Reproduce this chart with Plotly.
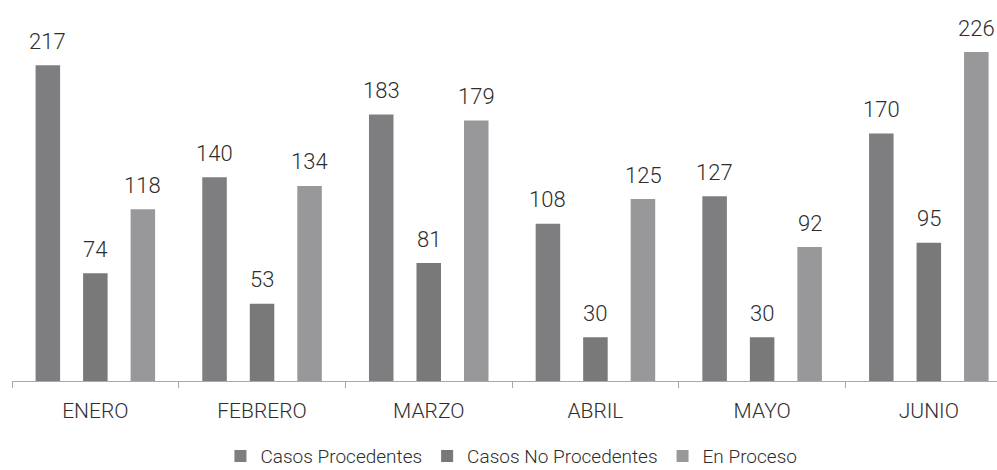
import plotly.graph_objects as go

# Monthly case counts by status
meses = ["ENERO", "FEBRERO", "MARZO", "ABRIL", "MAYO", "JUNIO"]
series_nombres = ["Casos Procedentes", "Casos No Procedentes", "En Proceso"]
procedentes = [217, 140, 183, 108, 127, 170]
no_procedentes = [74, 53, 81, 30, 30, 95]
en_proceso = [118, 134, 179, 125, 92, 226]
colores = ["#7e7e81", "#79797a", "#98989b"]

FONT = "Roboto, sans-serif"
TXT = "#2e2e2e"

valores = [procedentes, no_procedentes, en_proceso]

fig = go.Figure()
for nombre, vals, col in zip(series_nombres, valores, colores):
    fig.add_trace(go.Bar(
        x=meses, y=vals, name=nombre,
        marker=dict(color=col, line=dict(width=0)),
        hoverinfo="x+y+name",
    ))

# Value labels above each bar, shifted to the bar's slot within its group
slot_px = 47.6
for i, vals in enumerate(valores):
    for mes, v in zip(meses, vals):
        fig.add_annotation(
            x=mes, y=v, text=str(v), showarrow=False,
            xshift=(i - 1) * slot_px, yshift=24, yanchor="middle",
            font=dict(family=FONT, size=22, color=TXT, weight=300),
        )

fig.update_layout(
    width=997, height=470,
    margin=dict(l=12, r=0, t=20, b=89, autoexpand=False),
    paper_bgcolor="white", plot_bgcolor="white",
    barmode="group", bargap=0.145, bargroupgap=0.484,
    showlegend=True,
    legend=dict(
        orientation="h", xref="container", yref="paper",
        x=0.513, xanchor="center", y=-0.208, yanchor="middle",
        font=dict(family=FONT, size=19, color=TXT, weight=300),
        itemwidth=30, traceorder="normal",
    ),
    xaxis=dict(
        range=[-0.5, 5.409], type="category",
        showline=True, linecolor="#a8a8a8", linewidth=1,
        ticks="outside", tickson="boundaries", ticklen=6, tickcolor="#a8a8a8",
        tickfont=dict(family=FONT, size=21, color=TXT, weight=300),
        ticklabelstandoff=11,
        showgrid=False, zeroline=False,
    ),
    yaxis=dict(
        range=[0, 248], visible=False, showgrid=False, zeroline=False,
    ),
)

fig.write_html("out.html")
